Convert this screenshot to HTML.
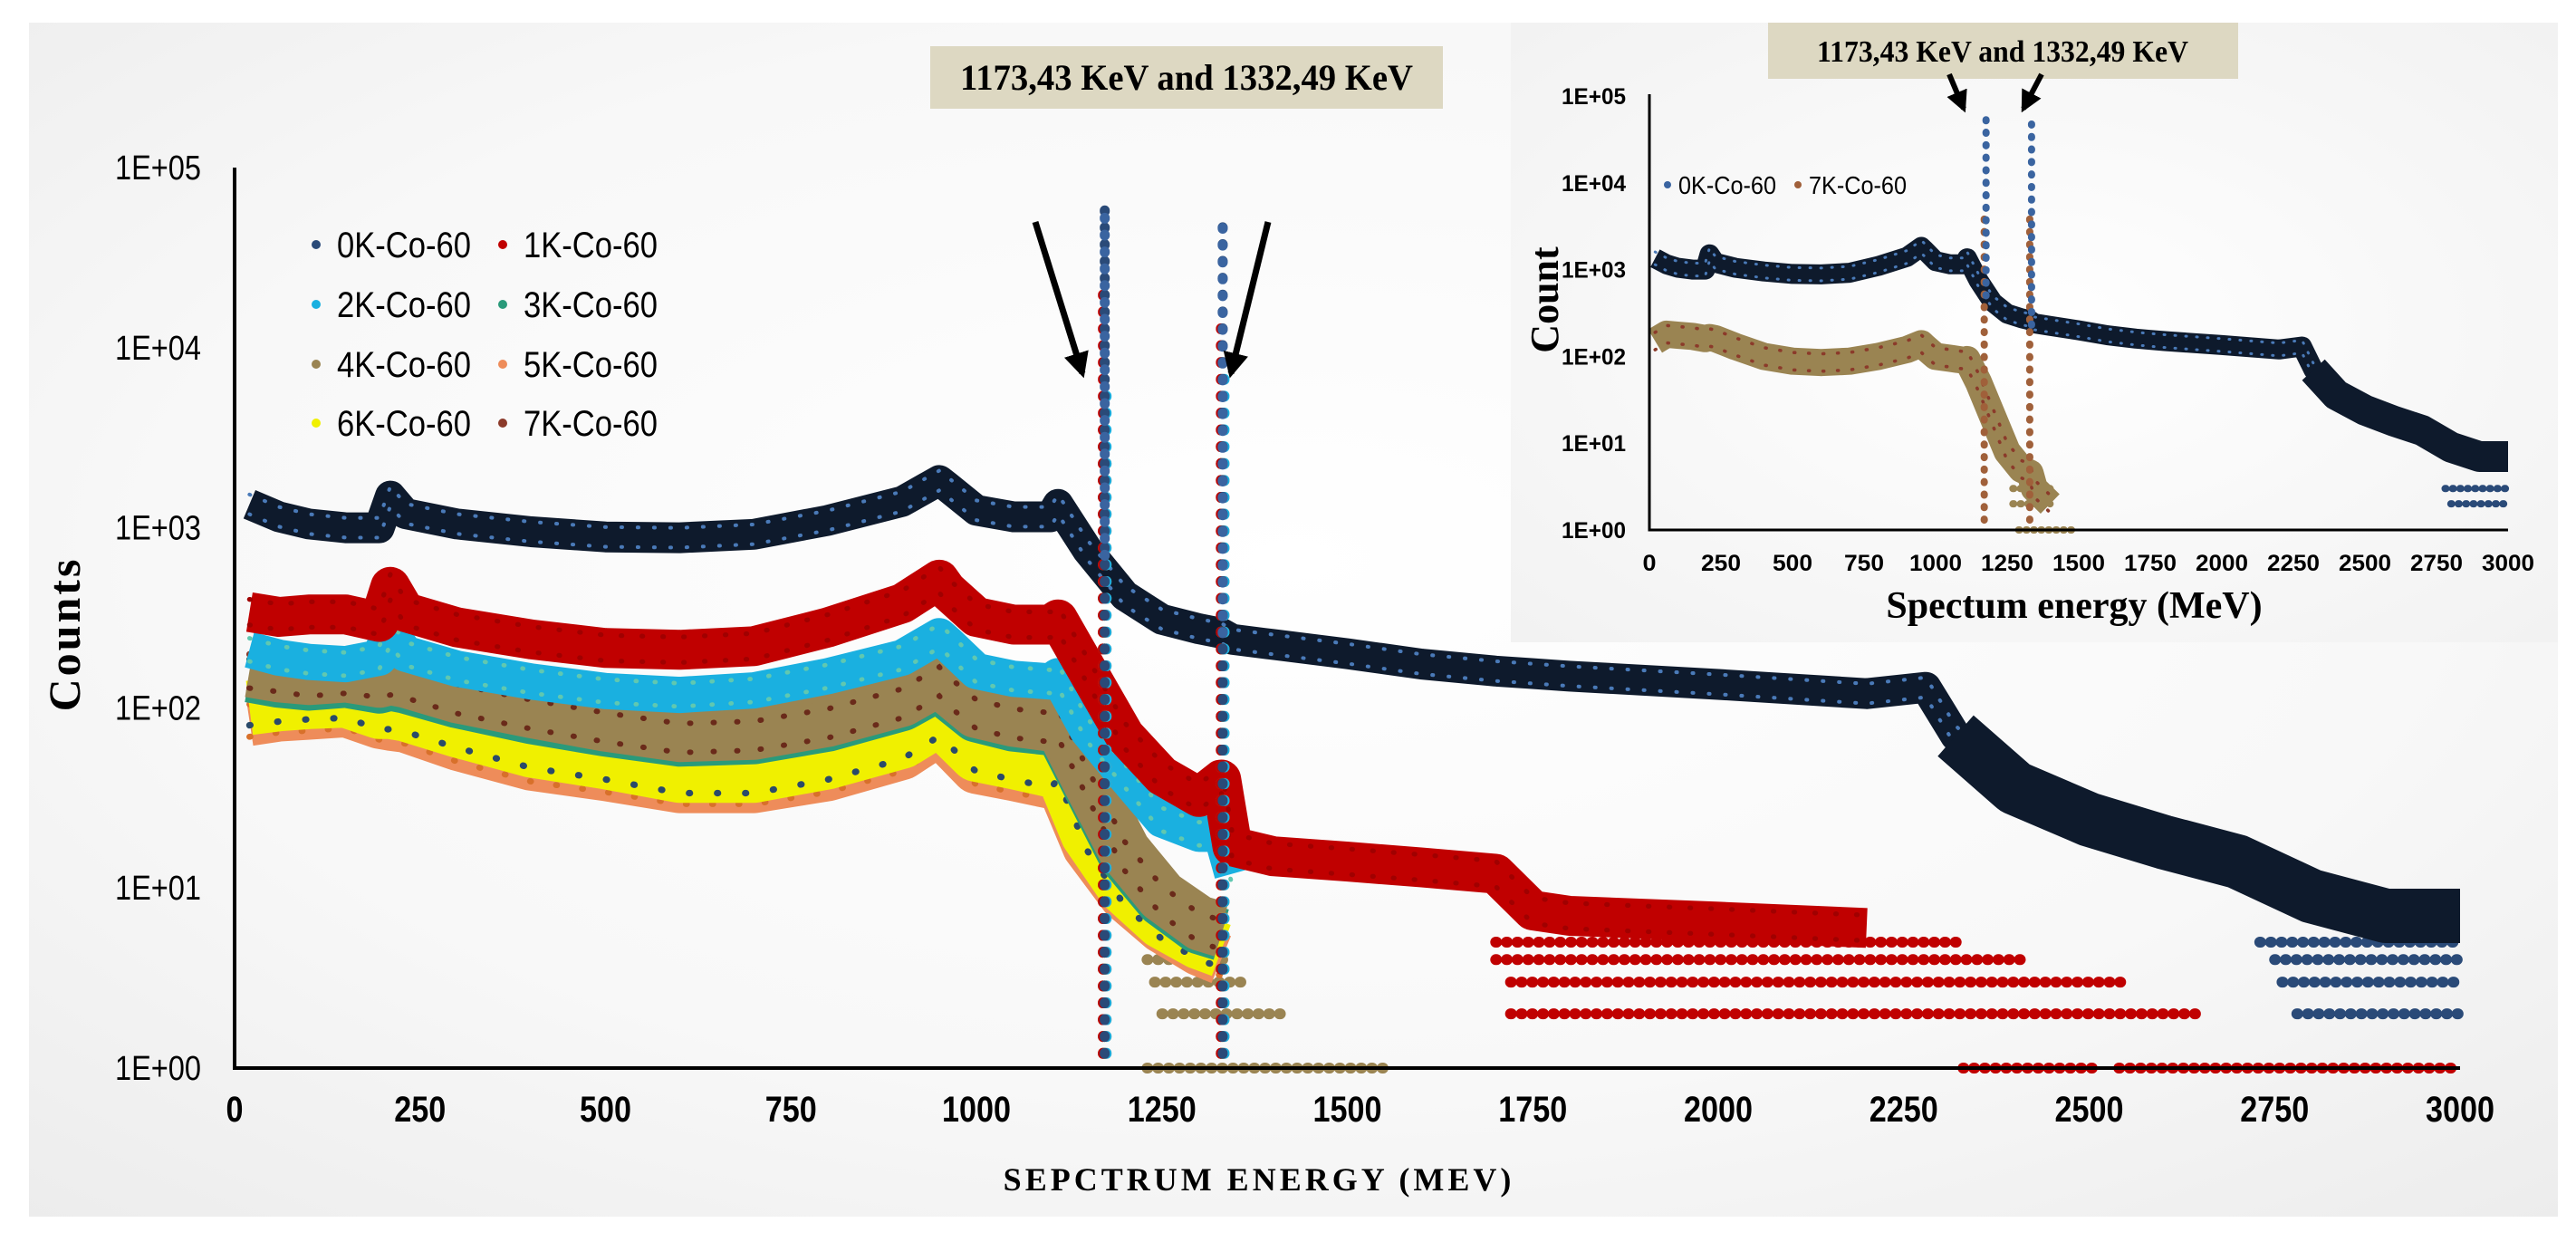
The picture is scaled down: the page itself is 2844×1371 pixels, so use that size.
<!DOCTYPE html>
<html><head><meta charset="utf-8"><style>
html,body{margin:0;padding:0;background:#fff;}
svg{display:block;}
text{font-family:"Liberation Sans Narrow","Liberation Sans",sans-serif;}
.serif{font-family:"Liberation Serif",serif;font-weight:bold;}
</style></head><body>
<svg id="chart" width="2844" height="1371" viewBox="0 0 2844 1371" xmlns="http://www.w3.org/2000/svg">
<defs>
<radialGradient id="bg" cx="0.5" cy="0.45" r="0.75">
<stop offset="0" stop-color="#ffffff"/><stop offset="0.6" stop-color="#f8f8f8"/><stop offset="1" stop-color="#ececec"/>
</radialGradient>
<radialGradient id="bg2" cx="0.5" cy="0.5" r="0.7">
<stop offset="0" stop-color="#ffffff"/><stop offset="1" stop-color="#f2f2f2"/>
</radialGradient>
<marker id="ah" viewBox="0 0 10 10" refX="8" refY="5" markerWidth="4" markerHeight="4" orient="auto"><path d="M0,0 L10,5 L0,10 z" fill="#000"/></marker>
</defs>
<rect x="32" y="25" width="2792" height="1318" fill="url(#bg)"/>
<rect x="1668" y="25" width="1156" height="684" fill="url(#bg2)"/>
<g id="main"></g>
<g id="inset"></g>
</svg>
<script>
const energies=[20,60,100,150,195,210,230,300,400,500,600,700,800,900,950,960,1000,1050,1100,1110,1150,1200,1250,1300,1330,1345,1400,1500,1600,1700,1750,1800,2000,2200,2280,2320,2400,2500,2600,2700,2800,2900,3000];
const k0=[1350,1150,1050,1000,1000,1500,1200,1050,950,890,880,920,1100,1400,1830,1700,1250,1150,1150,1350,750,420,310,275,260,240,225,200,175,160,155,150,135,120,130,70,36,24,18,14,9,7,7];
const k1=[340,320,330,330,300,470,340,280,240,215,210,220,280,380,515,450,320,290,290,310,160,70,42,32,40,17,15,14,13,12,7.5,7,6.5,6,null,null,null,null,null,null,null,null,null];
const k2=[210,190,180,175,190,260,200,165,140,124,118,125,150,190,250,230,160,145,140,150,75,42,24,20,20,12,null,null,null,null,null,null,null,null,null,null,null,null,null,null,null,null,null];
const k3=[150,140,135,140,130,135,130,108,88,75,66,68,80,104,135,122,90,80,76,80,38,15,8.5,6,5.5,null,null,null,null,null,null,null,null,null,null,null,null,null,null,null,null,null,null];
const k4=[160,150,145,150,140,145,140,115,95,80,70,72,85,110,144,130,95,85,80,85,40,16,9,6.5,6,null,null,null,null,null,null,null,null,null,null,null,null,null,null,null,null,null,null];
const k5=[85,90,92,95,82,80,78,62,48,42,36,36,42,55,75,68,46,42,38,42,17,9,6,4.5,4,null,null,null,null,null,null,null,null,null,null,null,null,null,null,null,null,null,null];
const k6=[100,105,108,110,95,95,92,75,58,50,42,42,50,65,87,80,55,50,45,50,20,10,6.5,5,4.5,null,null,null,null,null,null,null,null,null,null,null,null,null,null,null,null,null,null];
const k7=[155,148,140,145,138,142,137,112,92,78,68,70,82,106,140,126,92,82,78,82,38,15,8.5,6,5.5,null,null,null,null,null,null,null,null,null,null,null,null,null,null,null,null,null,null];
const k7inset=[150,180,175,170,160,165,160,130,100,88,85,88,100,120,140,130,100,95,90,92,50,20,8,5,4.5,3,2,null,null,null,null,null,null,null,null,null,null,null,null,null,null,null,null];
const peakEnergies=[1173,1332];
const peaks0=[62000,55000],peaks1=[20000,15000],peaks2=[6000,7000],peaks3=[4000,4000],peaks4=[3000,3000],peaks5=[2500,2500],peaks6=[2000,2000],peaks7=[3500,3500];
const insetPeaks0=[70000,50000],insetPeaks7=[5000,4000];
const rows1=[[5,1700,2330],[4,1700,2420],[3,1720,2550],[2,1720,2650],[1,2330,2510],[1,2540,3000]];
const rows0=[[5,2730,3000],[4,2750,3000],[3,2760,3000],[2,2780,3000]];
const rowsLow=[[4,1230,1345],[3,1240,1360],[2,1250,1420],[1,1230,1560]];
const insetRows7=[[3,1270,1400],[2,1270,1400],[1,1290,1490]];
const insetRows0=[[3,2780,3000],[2,2800,3000]];
const xTicks=[0,250,500,750,1000,1250,1500,1750,2000,2250,2500,2750,3000];
const yTicks=["1E+00","1E+01","1E+02","1E+03","1E+04","1E+05"];
const legendNames=["0K-Co-60","1K-Co-60","2K-Co-60","3K-Co-60","4K-Co-60","5K-Co-60","6K-Co-60","7K-Co-60"];

const NS="http://www.w3.org/2000/svg";
function mk(tag,attrs,parent){const e=document.createElementNS(NS,tag);for(const k in attrs)e.setAttribute(k,attrs[k]);parent.appendChild(e);return e;}
function axes(x0,x1,y0,dec){return {X:e=>x0+e*(x1-x0)/3000,Y:c=>y0-Math.log10(c)*dec};}
const M=axes(259,2716,1179,198.8);
const I=axes(1821,2769,585,95.8);

function band(g,A,vals,color,dot,w,name){
  const segs=[];let cur=[];
  vals.forEach((v,i)=>{if(v==null){if(cur.length)segs.push(cur);cur=[];}else cur.push(A.X(energies[i]).toFixed(1)+","+A.Y(v).toFixed(1));});
  if(cur.length)segs.push(cur);
  segs.forEach(s=>{
    const p=mk('polyline',{points:s.join(' '),fill:'none',stroke:color,'stroke-width':w,'stroke-linejoin':'round','stroke-linecap':'butt'},g);
    
    
    [-0.32,0.32].forEach(f=>{
      const q=mk('polyline',{points:s.join(' '),fill:'none',stroke:dot,'stroke-width':Math.max(3,w*0.12),'stroke-dasharray':'1 '+(w*0.5),'stroke-linecap':'round',transform:'translate(0,'+(w*f)+')'},g);
      
      
    });
  });
}
function peaksCol(g,A,pk,base,color,r,name,dx){
  peakEnergies.forEach((e,i)=>{
    const x=A.X(e)+dx;
    const l=mk('line',{x1:x,x2:x,y1:A.Y(base[i]),y2:A.Y(pk[i]),stroke:color,'stroke-width':r,'stroke-dasharray':'1 '+(r*1.6),'stroke-linecap':'round'},g);
    
    
  });
}
function rows(g,A,rs,color,r,name){
  rs.forEach(rw=>{
    const y=A.Y(rw[0]);
    const l=mk('line',{x1:A.X(rw[1]),x2:A.X(rw[2]),y1:y,y2:y,stroke:color,'stroke-width':r,'stroke-dasharray':'1 '+(r*0.9),'stroke-linecap':'round'},g);
    
    
  });
}
function valAt(vals,e){const i=energies.indexOf(e);return vals[i];}
function fitText(t,str,perChar){t.setAttribute('textLength',(str.length*perChar).toFixed(0));t.setAttribute('lengthAdjust','spacingAndGlyphs');}

// ---- MAIN ----
const gm=document.getElementById('main');
const colors=["#0e1a2c","#c00000","#1ab0e0","#2a9a7a","#9a8452","#ee8c5a","#f0f000","#8b3a2a"];
const dots=["#4a7ab8","#a00000","#60c8b0","#1a7a5a","#8a3a2a","#d8702a","#2a4a6a","#6a2a1a"];
rows(gm,M,rowsLow,"#9a8452",12,"low-group");
rows(gm,M,rows1,"#c00000",12,"1k");
rows(gm,M,rows0,"#2a4a78",12,"0k");
band(gm,M,k5,colors[5],dots[5],56,"5k");
band(gm,M,k6,colors[6],dots[6],60,"6k");
band(gm,M,k3,colors[3],dots[3],58,"3k");
band(gm,M,k4,colors[4],dots[4],58,"4k");
band(gm,M,k7,colors[4],dots[7],50,"7k");
band(gm,M,k2,colors[2],dots[2],40,"2k");
band(gm,M,k1,colors[1],dots[1],44,"1k");
band(gm,M,k0,colors[0],dots[0],34,"0k");
const tail=mk('polyline',{points:[2320,2400,2500,2600,2700,2800,2900,3000].map(e=>M.X(e)+","+M.Y(valAt(k0,e))).join(' '),fill:'none',stroke:colors[0],'stroke-width':60,'stroke-linejoin':'round'},gm);


const allPk=[peaks7,peaks6,peaks5,peaks4,peaks3,peaks2,peaks1,peaks0];
const ord=[7,6,5,4,3,2,1,0];
allPk.forEach((pk,j)=>{const s=ord[j];peaksCol(gm,M,pk,[1.2,1.2],colors[s]=="#0e1a2c"?"#2a4a78":colors[s],11,"s"+s,(j%3-1)*2);});
peaksCol(gm,M,peaks0,[700,260],"#3a64a0",11,"0k-top",0);

const ax=mk('path',{d:`M${M.X(0)},${M.Y(100000)} V${M.Y(1)} H${M.X(3000)}`,fill:'none',stroke:'#000','stroke-width':4},gm);


xTicks.forEach(t=>{const e=mk('text',{x:M.X(t),y:1238,'font-size':40,'font-weight':'bold','text-anchor':'middle'},gm);e.textContent=t;fitText(e,String(t),19);

});
yTicks.forEach((t,i)=>{const e=mk('text',{x:222,y:M.Y(Math.pow(10,i))+13,'font-size':38,'text-anchor':'end'},gm);e.textContent=t;fitText(e,t,19);

});
const yt=mk('text',{x:0,y:0,'font-size':50,'class':'serif','text-anchor':'middle','letter-spacing':'3',transform:'translate(88,700) rotate(-90)'},gm);yt.textContent="Counts";


const xt=mk('text',{x:1390,y:1314,'font-size':36,'class':'serif','text-anchor':'middle','letter-spacing':'4'},gm);xt.textContent="SEPCTRUM ENERGY (MEV)";


const legPos=[[349,270],[555,270],[349,336],[555,336],[349,402],[555,402],[349,467],[555,467]];
legendNames.forEach((n,i)=>{
  const g=mk('g',{},gm);
  
  
  mk('circle',{cx:legPos[i][0],cy:legPos[i][1],r:5,fill:colors[i]=="#0e1a2c"?"#2a4a78":colors[i]},g);
  const t=mk('text',{x:legPos[i][0]+23,y:legPos[i][1]+14,'font-size':40,textLength:148,lengthAdjust:'spacingAndGlyphs'},g);t.textContent=n;
});
const ann=mk('g',{},gm);


mk('rect',{x:1027,y:51,width:566,height:69,fill:'#ddd8c2'},ann);
const at=mk('text',{x:1310,y:99,'font-size':40,'class':'serif','text-anchor':'middle',textLength:500,lengthAdjust:'spacingAndGlyphs'},ann);at.textContent="1173,43 KeV and 1332,49 KeV";
mk('line',{x1:1143,y1:245,x2:1195,y2:412,stroke:'#000','stroke-width':7,'marker-end':'url(#ah)'},ann);
mk('line',{x1:1400,y1:245,x2:1359,y2:412,stroke:'#000','stroke-width':7,'marker-end':'url(#ah)'},ann);

// ---- INSET ----
const gi=document.getElementById('inset');
rows(gi,I,insetRows7,"#9a8452",8,"inset-7k");
rows(gi,I,insetRows0,"#2a4a78",8,"inset-0k");
band(gi,I,k7inset,"#9a8452","#8b3a2a",30,"inset-7k");
band(gi,I,k0,"#0e1a2c","#4a7ab8",22,"inset-0k");
const tailI=mk('polyline',{points:[2320,2400,2500,2600,2700,2800,2900,3000].map(e=>I.X(e)+","+I.Y(valAt(k0,e))).join(' '),fill:'none',stroke:'#0e1a2c','stroke-width':34,'stroke-linejoin':'round'},gi);


peaksCol(gi,I,insetPeaks7,[1.3,1.3],"#a0603a",8,"inset-7k",-1);
peaksCol(gi,I,insetPeaks0,[500,230],"#3a64a0",8,"inset-0k",1);
const axI=mk('path',{d:`M${I.X(0)},${I.Y(100000)-2} V${I.Y(1)} H${I.X(3000)}`,fill:'none',stroke:'#000','stroke-width':3},gi);


xTicks.forEach(t=>{const e=mk('text',{x:I.X(t),y:630,'font-size':25,'font-weight':'bold','text-anchor':'middle'},gi);e.textContent=t;fitText(e,String(t),14.5);

});
yTicks.forEach((t,i)=>{const e=mk('text',{x:1795,y:I.Y(Math.pow(10,i))+9,'font-size':25,'font-weight':'bold','text-anchor':'end'},gi);e.textContent=t;fitText(e,t,14.2);

});
const yti=mk('text',{x:0,y:0,'font-size':44,'class':'serif','text-anchor':'middle',transform:'translate(1720,331) rotate(-90)'},gi);yti.textContent="Count";


const xti=mk('text',{x:2290,y:682,'font-size':42,'class':'serif','text-anchor':'middle'},gi);xti.textContent="Spectum energy (MeV)";


[[0,"#3a64a0",1841],[7,"#a0603a",1985]].forEach((d,j)=>{
  const g=mk('g',{},gi);
  
  
  mk('circle',{cx:d[2],cy:204,r:4,fill:d[1]},g);
  const t=mk('text',{x:d[2]+12,y:214,'font-size':28,textLength:108,lengthAdjust:'spacingAndGlyphs'},g);t.textContent=legendNames[d[0]];
});
const annI=mk('g',{},gi);


mk('rect',{x:1952,y:25,width:519,height:62,fill:'#ddd8c2'},annI);
const ati=mk('text',{x:2211,y:68,'font-size':34,'class':'serif','text-anchor':'middle',textLength:410,lengthAdjust:'spacingAndGlyphs'},annI);ati.textContent="1173,43 KeV and 1332,49 KeV";
mk('line',{x1:2152,y1:82,x2:2168,y2:120,stroke:'#000','stroke-width':6,'marker-end':'url(#ah)'},annI);
mk('line',{x1:2254,y1:82,x2:2234,y2:120,stroke:'#000','stroke-width':6,'marker-end':'url(#ah)'},annI);
</script>
</body></html>
